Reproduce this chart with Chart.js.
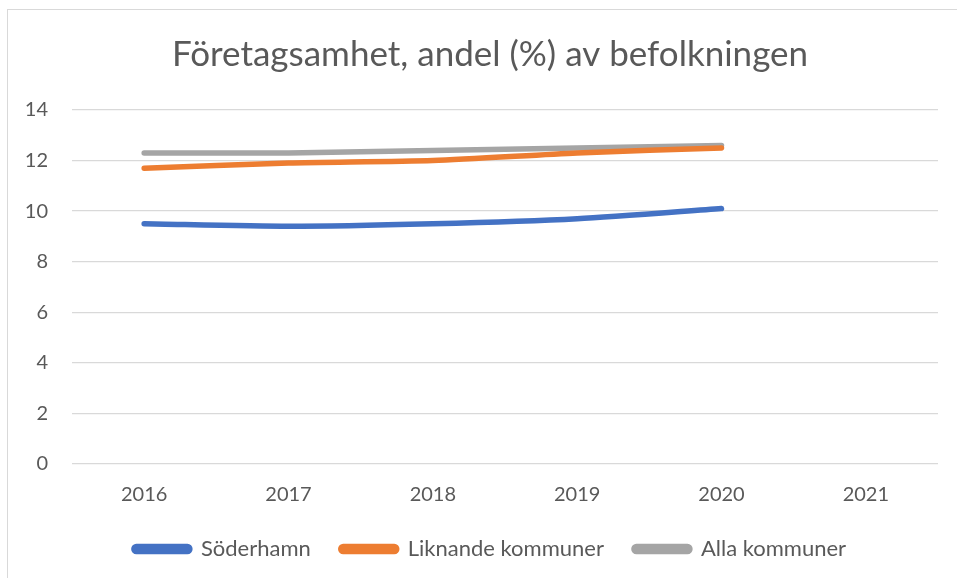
<!DOCTYPE html>
<html><head><meta charset="utf-8">
<script src="https://cdn.jsdelivr.net/npm/chart.js@4"></script>
<style>
html,body{margin:0;padding:0;background:#fff;overflow:hidden;width:957px;height:578px;}
#frame{position:absolute;left:7px;top:9px;width:970px;height:600px;border:1px solid #d9d9d9;box-sizing:border-box;}
#wrap{position:absolute;left:0;top:0;width:980px;height:578px;}
</style></head>
<body>
<div id="frame"></div>
<div id="wrap"><canvas id="c" width="980" height="578"></canvas></div>
<script>
const categories = ["2016","2017","2018","2019","2020","2021"];
const soderhamn = [9.5, 9.4, 9.5, 9.7, 10.1];
const liknande = [11.7, 11.9, 12.0, 12.3, 12.5];
const alla = [12.3, 12.3, 12.4, 12.5, 12.6];
const seriesNames = ["Söderhamn","Liknande kommuner","Alla kommuner"];
const titleText = "Företagsamhet, andel (%) av befolkningen";

const FONT = "Lato, 'Open Sans', sans-serif";
const TXT = "#595959";

new Chart(document.getElementById('c'), {
  type: 'line',
  data: {
    labels: categories,
    datasets: [
      {label: seriesNames[0], data: soderhamn, borderColor:'#4472C4', backgroundColor:'#4472C4'},
      {label: seriesNames[1], data: liknande, borderColor:'#ED7D31', backgroundColor:'#ED7D31'},
      {label: seriesNames[2], data: alla, borderColor:'#A5A5A5', backgroundColor:'#A5A5A5'}
    ].map(d => Object.assign(d, {borderWidth:5.5, pointRadius:0, pointHoverRadius:0, tension:0.25, borderCapStyle:'round', borderJoinStyle:'round', fill:false}))
  },
  options: {
    responsive:false, animation:false,
    layout:{padding:{left:0,right:0,top:16,bottom:8}},
    plugins:{
      title:{display:true, text:titleText, color:TXT, font:{family:FONT, size:35, weight:'normal'}, padding:{top:18,bottom:34}},
      legend:{position:'bottom', labels:{color:TXT, font:{family:FONT,size:22}, boxWidth:56, boxHeight:5, useBorderRadius:true, borderRadius:2.5, padding:30}},
      tooltip:{enabled:false}
    },
    scales:{
      x:{offset:true, grid:{display:false, drawTicks:false}, border:{display:false},
         ticks:{color:TXT, font:{family:FONT,size:20}, padding:19},
         afterFit:s=>{s.height=44;}},
      y:{position:'left', min:0,max:14, grid:{color:'#d9d9d9', lineWidth:1.3, drawTicks:false}, border:{display:false},
         ticks:{stepSize:2, color:TXT, font:{family:FONT,size:20}, padding:24},
         afterFit:s=>{s.width=72;}},
      yRight:{position:'right', display:true, min:0, max:14, grid:{display:false, drawTicks:false}, border:{display:false},
         ticks:{display:false}, afterFit:s=>{s.width=42;}}
    }
  }
});
</script>
</body></html>
